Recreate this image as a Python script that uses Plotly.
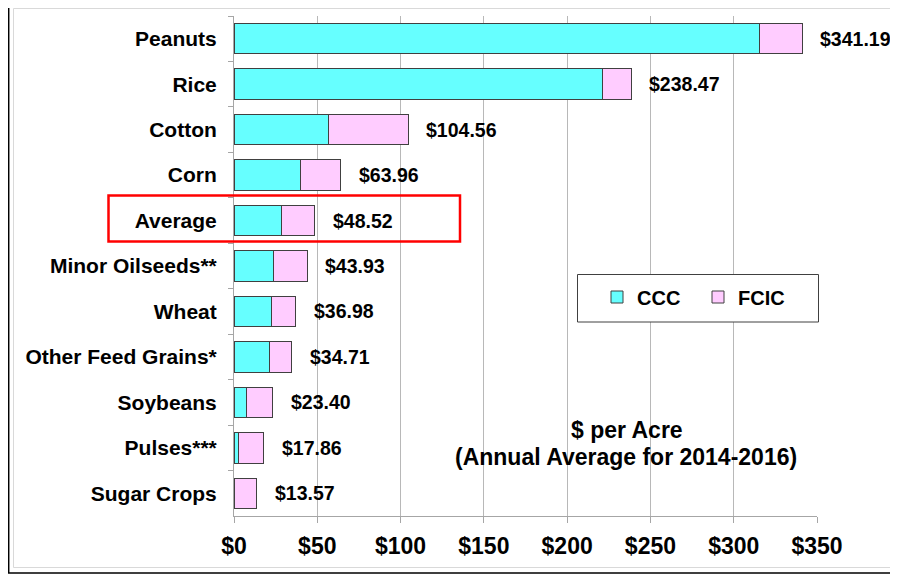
import plotly.graph_objects as go

# crops, top to bottom
crops = ["Peanuts", "Rice", "Cotton", "Corn", "Average", "Minor Oilseeds**",
         "Wheat", "Other Feed Grains*", "Soybeans", "Pulses***", "Sugar Crops"]
totals = [341.19, 238.47, 104.56, 63.96, 48.52, 43.93, 36.98, 34.71, 23.40, 17.86, 13.57]
ccc = [315.6, 221.2, 56.9, 40.1, 28.7, 24.0, 22.3, 21.6, 7.6, 2.4, 0.0]
fcic = [round(t - c, 2) for t, c in zip(totals, ccc)]
x_ticks = [0, 50, 100, 150, 200, 250, 300, 350]
x_labels = [f"${v}" for v in x_ticks]

FONT = "Liberation Sans, Arial, sans-serif"
OFF = 8  # page body margin
W, H = 898 - OFF, 575 - OFF
L, R, T, B = 226, 81, 8, 59
PW, PH = W - L - R, H - T - B


def px(x):
    # screen pixel -> paper x
    return (x - OFF - L) / PW


def py(y):
    # screen pixel -> paper y
    return (H - B - (y - OFF)) / PH


fig = go.Figure()
fig.add_trace(go.Bar(
    y=crops, x=ccc, name="CCC", orientation="h",
    marker=dict(color="#66FFFF", line=dict(color="#404040", width=1)),
    width=0.67,
))
fig.add_trace(go.Bar(
    y=crops, x=fcic, name="FCIC", orientation="h",
    marker=dict(color="#FFCCFF", line=dict(color="#404040", width=1)),
    width=0.67,
))

# total labels at the end of each bar
for crop, tot in zip(crops, totals):
    fig.add_annotation(
        x=tot, y=crop, text=f"${tot:.2f}", showarrow=False,
        xanchor="left", xshift=16,
        font=dict(family=FONT, size=19.5, color="black", weight="bold"),
    )

note_font = dict(family=FONT, size=23, color="black", weight="bold")
fig.add_annotation(xref="paper", yref="paper", x=px(627), y=py(430),
                   text="$ per Acre", showarrow=False,
                   xanchor="center", yanchor="middle", font=note_font)
fig.add_annotation(xref="paper", yref="paper", x=px(626), y=py(456.5),
                   text="(Annual Average for 2014-2016)", showarrow=False,
                   xanchor="center", yanchor="middle", font=note_font)

shapes = [
    # outer frames
    dict(type="rect", xref="paper", yref="paper", x0=px(8.7), x1=px(1000), y0=py(2), y1=py(573),
         line=dict(color="black", width=1.5), layer="above"),
    dict(type="rect", xref="paper", yref="paper", x0=px(13.5), x1=px(895), y0=py(8.5), y1=py(567.5),
         line=dict(color="#d9d9d9", width=1), layer="above"),
    # legend box
    dict(type="rect", xref="paper", yref="paper", x0=px(577.5), x1=px(818.5), y0=py(274.5), y1=py(322),
         fillcolor="white", line=dict(color="#404040", width=1), layer="above"),
    # highlight around Average
    dict(type="rect", xref="paper", yref="paper", x0=px(108.5), x1=px(460), y0=py(195.5), y1=py(241.5),
         line=dict(color="#FF0000", width=2.5), layer="above"),
]

fig.update_layout(
    width=W, height=H,
    margin=dict(l=L, r=R, t=T, b=B),
    barmode="stack",
    paper_bgcolor="white", plot_bgcolor="white",
    font=dict(family=FONT, color="black"),
    shapes=shapes,
    legend=dict(
        orientation="h", x=px(597), y=py(297), xanchor="left", yanchor="middle",
        bgcolor="rgba(0,0,0,0)", borderwidth=0,
        entrywidth=56, entrywidthmode="pixels",
        font=dict(family=FONT, size=20, color="black", weight="bold"),
        traceorder="normal",
    ),
    xaxis=dict(
        range=[0, 350], tickmode="array", tickvals=x_ticks, ticktext=x_labels,
        showgrid=True, gridcolor="#b8b8b8", gridwidth=1,
        showline=True, linecolor="#a6a6a6", linewidth=1,
        ticks="outside", ticklen=6, tickcolor="#a6a6a6",
        ticklabelstandoff=3, zeroline=False,
        tickfont=dict(family=FONT, size=23, color="black", weight="bold"),
    ),
    yaxis=dict(
        categoryorder="array", categoryarray=crops, autorange="reversed",
        showgrid=False, showline=True, linecolor="#a6a6a6", linewidth=1,
        ticks="outside", ticklen=5, tickcolor="#a6a6a6", tickson="boundaries",
        ticklabelstandoff=12,
        tickfont=dict(family=FONT, size=21, color="black", weight="bold"),
    ),
)

fig.write_html("out.html")
